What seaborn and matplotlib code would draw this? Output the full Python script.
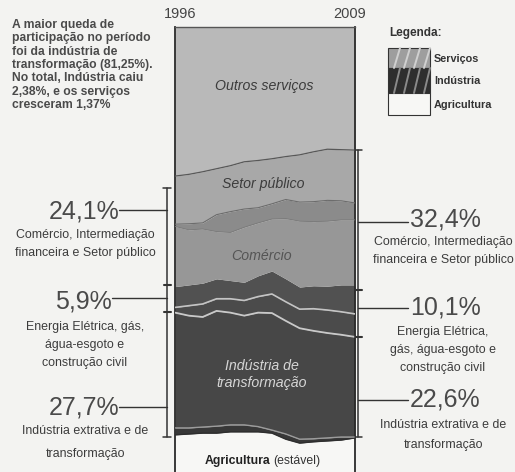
import numpy as np
import pandas as pd
import matplotlib
matplotlib.use("Agg")
import matplotlib.pyplot as plt
import matplotlib.transforms as mtransforms
import seaborn as sns
from matplotlib import font_manager
from matplotlib.patches import Rectangle

# ---------------- data (shares of GDP, %, bottom to top) ----------------
anos = list(range(1996, 2010))
agricultura = [5.8, 6.0, 6.2, 6.2, 6.5, 6.5, 6.5, 6.2, 4.8, 3.9, 4.2, 4.4, 4.6, 5.1]
ind_extrativa = [1.6, 1.4, 1.4, 1.6, 1.6, 1.6, 1.2, 0.7, 1.2, 0.9, 0.7, 0.7, 0.7, 0.2]
ind_transformacao = [26.6, 25.9, 25.4, 26.6, 25.9, 25.2, 26.3, 27.0, 26.1, 25.6, 24.9, 24.2, 23.6, 23.1]
construcao = [1.2, 2.3, 3.0, 2.8, 3.2, 3.5, 3.7, 4.4, 4.4, 4.4, 5.1, 5.3, 5.3, 5.3]
energia = [4.8, 4.8, 4.8, 4.6, 4.2, 4.2, 4.8, 5.3, 5.3, 5.1, 5.3, 5.5, 6.2, 6.7]
comercio = [13.9, 12.7, 12.5, 10.9, 11.1, 12.7, 12.2, 12.0, 13.9, 15.2, 14.8, 15.0, 15.0, 15.0]
intermediacao = [0.5, 1.4, 1.4, 3.9, 4.8, 4.2, 3.5, 3.5, 4.4, 4.4, 4.6, 4.8, 4.4, 3.9]
setor_publico = [11.1, 11.4, 11.8, 10.6, 10.6, 10.9, 10.9, 10.4, 9.9, 10.9, 11.5, 11.8, 11.8, 12.2]
outros_servicos = [34.6, 34.1, 33.5, 32.8, 32.1, 31.4, 30.9, 30.5, 30.0, 29.6, 28.9, 28.2, 28.4, 28.4]

ano_labels = ["1996", "2009"]
ticks_menores = [1998, 2000, 2002, 2004, 2006, 2008]

texto_intro = ["A maior queda de", "participação no período", "foi da indústria de",
               "transformação (81,25%).", "No total, Indústria caiu",
               "2,38%, e os serviços", "cresceram 1,37%"]
pct_1996 = ["24,1%", "5,9%", "27,7%"]
pct_2009 = ["32,4%", "10,1%", "22,6%"]
desc_1996 = [["Comércio, Intermediação", "financeira e Setor público"],
             ["Energia Elétrica, gás,", "água-esgoto e", "construção civil"],
             ["Indústria extrativa e de", "transformação"]]
desc_2009 = [["Comércio, Intermediação", "financeira e Setor público"],
             ["Energia Elétrica,", "gás, água-esgoto e", "construção civil"],
             ["Indústria extrativa e de", "transformação"]]
legenda_itens = ["Serviços", "Indústria", "Agricultura"]

# ---------------- style ----------------
sns.set_theme(style="white")
avail = {f.name for f in font_manager.fontManager.ttflist}
if "Liberation Sans Narrow" in avail:
    FAM, SC = "Liberation Sans Narrow", 1.15
else:
    FAM, SC = "Liberation Sans", 1.0
plt.rcParams["font.family"] = [FAM, "DejaVu Sans"]
WIDE = ["Liberation Sans", "DejaVu Sans"]

BG = "#f3f3f1"
fig = plt.figure(figsize=(5.15, 4.72), dpi=100, facecolor=BG)

# axes: 100% at pixel y=27, 0% at pixel y=460, bottom of figure = 472
PX = 4.33
ax = fig.add_axes([175 / 515, 0, 180 / 515, 445 / 472])
ax.set_facecolor("#f7f7f5")

layers = [agricultura, ind_extrativa, ind_transformacao, construcao, energia,
          comercio, intermediacao, setor_publico, outros_servicos]
cores = ["#f7f7f5", "#383838", "#474747", "#4b4b4b", "#515151",
         "#979797", "#8b8b8b", "#a8a8a8", "#b9b9b9"]
arr = np.array(layers)
tops = np.cumsum(arr, axis=0)
bottoms = np.vstack([np.zeros(len(anos)), tops[:-1]])
for b, t, c in zip(bottoms, tops, cores):
    ax.fill_between(anos, b, t, color=c, linewidth=0, zorder=1)

df = pd.DataFrame({"ano": anos})
nomes = ["agri", "extr", "transf", "constr", "energ", "com", "inter", "setor", "outros"]
for n, t in zip(nomes, tops):
    df[n] = t

line_styles = {
    "agri": ("#2e2e2e", 1.0),
    "extr": ("#9c9c9c", 1.0),
    "transf": ("#c9c9c9", 1.3),
    "constr": ("#c4c4c4", 1.2),
    "com": ("#7a7a7a", 0.6),
    "inter": ("#6c6c6c", 0.8),
    "setor": ("#585858", 0.9),
}
for n, (c, lw) in line_styles.items():
    sns.lineplot(data=df, x="ano", y=n, ax=ax, color=c, linewidth=lw, zorder=3, legend=False)

ax.set_xlim(1996, 2009)
ax.set_ylim(-(472 - 460) / PX, 100 - 0.1)
ax.set_xlabel("")
ax.set_ylabel("")
ax.set_yticks([])
ax.xaxis.tick_top()
ax.set_xticks([1996, 2009])
ax.set_xticklabels(ano_labels, fontsize=10.5, color="#444444")
ax.set_xticks(ticks_menores, minor=True)
ax.tick_params(axis="x", which="major", length=0, pad=4)
ax.tick_params(axis="x", which="minor", direction="in", length=3, width=0.8,
               color="#555555", top=True, bottom=False)
shifts = [5, -5]
for lbl, dx in zip(ax.get_xticklabels(), shifts):
    lbl.set_transform(lbl.get_transform() +
                      mtransforms.ScaledTranslation(dx / 100, 0, fig.dpi_scale_trans))
for s in ["left", "right"]:
    ax.spines[s].set_color("#2a2a2a")
    ax.spines[s].set_linewidth(1.3)
ax.spines["top"].set_color("#555555")
ax.spines["top"].set_linewidth(1.0)
ax.spines["bottom"].set_visible(False)

# ---------------- overlay in pixel coordinates ----------------
ov = fig.add_axes([0, 0, 1, 1], facecolor="none")
ov.set_xlim(0, 515)
ov.set_ylim(472, 0)
ov.axis("off")

# intro paragraph
for i, ln in enumerate(texto_intro):
    ov.text(12, 25 + i * 13.3, ln, fontsize=8.7 * SC, fontweight="bold",
            color="#4a4a4a", ha="left", va="center")

# inner labels
ov.text(264, 86, "Outros serviços", fontsize=10.2 * SC, style="italic", color="#3c3c3c",
        ha="center", va="center")
ov.text(263, 184, "Setor público", fontsize=10.2 * SC, style="italic", color="#3c3c3c",
        ha="center", va="center")
ov.text(262, 256, "Comércio", fontsize=10.2 * SC, style="italic", color="#555555",
        ha="center", va="center")
ov.text(262, 366, "Indústria de", fontsize=10.2 * SC, style="italic", color="#d6d6d6",
        ha="center", va="center")
ov.text(262, 383, "transformação", fontsize=10.2 * SC, style="italic", color="#d6d6d6",
        ha="center", va="center")
ov.text(270, 461, "Agricultura", fontsize=8.8 * SC, fontweight="bold", color="#222222",
        ha="right", va="center")
ov.text(273, 461, "(estável)", fontsize=8.8 * SC, color="#333333", ha="left", va="center")

LC = "#333333"
# left bracket
ov.plot([167, 167], [188, 437], color=LC, lw=1.1)
for yy in [188, 437]:
    ov.plot([163, 171], [yy, yy], color=LC, lw=1.1)
for yy in [285, 312]:
    ov.plot([164, 171], [yy, yy], color=LC, lw=1.5)
# right bracket
ov.plot([358, 358], [150, 437], color=LC, lw=1.1)
for yy in [150, 437]:
    ov.plot([355, 362], [yy, yy], color=LC, lw=1.1)
for yy in [290, 337]:
    ov.plot([355, 362], [yy, yy], color=LC, lw=1.5)

# left annotations
left_pct_y = [212, 302, 408]
left_lead = [(119, 210), (112, 298), (119, 407)]
left_desc_y = [[235, 253], [327, 345, 363], [431, 454]]
for p, (lx, ly), py, dl, dys in zip(pct_1996, left_lead, left_pct_y, desc_1996, left_desc_y):
    ov.plot([lx, 167], [ly, ly], color=LC, lw=1.0)
    ov.text(lx, py, p, fontsize=18, family=WIDE, color="#4a4a4a", ha="right", va="center")
    for d, dy in zip(dl, dys):
        ov.text(85, dy, d, fontsize=8.9 * SC, color="#3c3c3c", ha="center", va="center")

# right annotations
right_pct_y = [220, 307, 400]
right_lead = [(408, 222), (408, 308), (408, 400)]
right_desc_y = [[242, 260], [332, 350, 368], [425, 445]]
for p, (lx, ly), py, dl, dys in zip(pct_2009, right_lead, right_pct_y, desc_2009, right_desc_y):
    ov.plot([358, lx], [ly, ly], color=LC, lw=1.0)
    ov.text(lx + 2, py, p, fontsize=18, family=WIDE, color="#4a4a4a", ha="left", va="center")
    for d, dy in zip(dl, dys):
        ov.text(443, dy, d, fontsize=8.9 * SC, color="#3c3c3c", ha="center", va="center")

# legend
ov.text(389, 33, "Legenda:", fontsize=8.5 * SC, fontweight="bold", color="#333333",
        ha="left", va="center")
boxes = [(48, 20, "#9e9e9e", "#d0d0d0"), (68, 25, "#2e2e2e", "#8a8a8a"), (93, 22, "#f7f7f5", None)]
for (y0, h, fc, hc), lab in zip(boxes, legenda_itens):
    ov.add_patch(Rectangle((388, y0), 42, h, facecolor=fc, edgecolor="#333333", lw=0.8))
    if hc is not None:
        for k in range(4):
            xs = 394 + k * 10
            ov.plot([xs, xs + 6], [y0 + h, y0], color=hc, lw=1.4)
    ov.text(434, y0 + h / 2 + 1, lab, fontsize=7.8 * SC, fontweight="bold",
            color="#333333", ha="left", va="center")

fig.savefig("out.png", dpi=100, facecolor=BG)
